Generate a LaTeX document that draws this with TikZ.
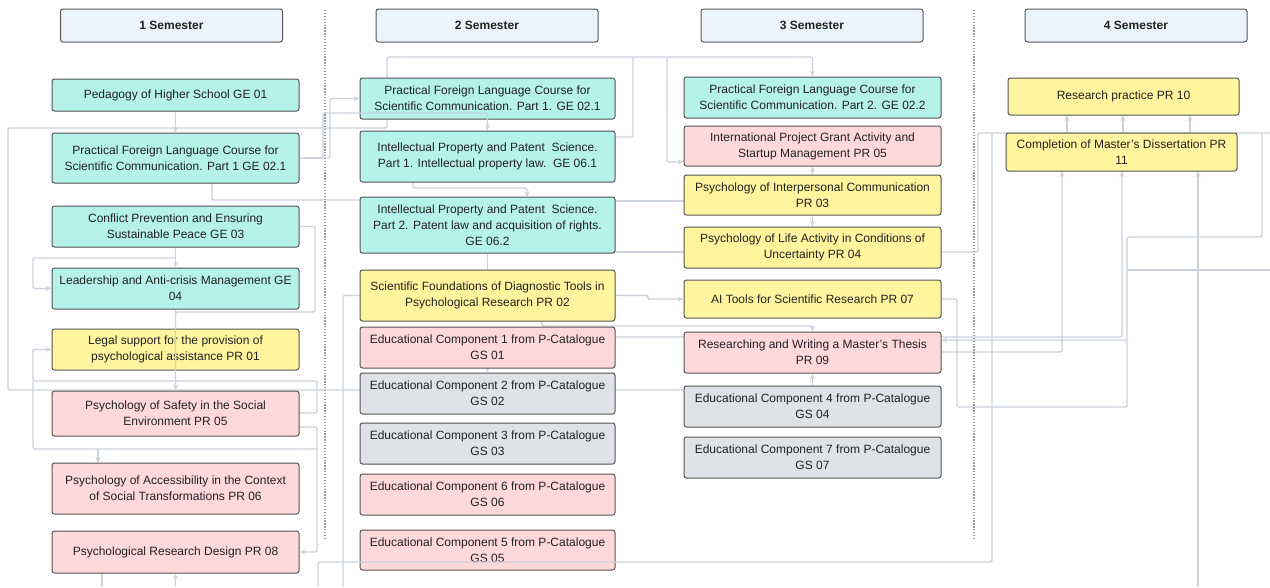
\documentclass[tikz,border=0pt]{standalone}
\usepackage{fontspec}
\setmainfont{Liberation Sans}
\usetikzlibrary{arrows.meta}
\definecolor{cteal}{HTML}{B4F2EA}
\definecolor{cyel}{HTML}{FFF59E}
\definecolor{cpink}{HTML}{FFD9D9}
\definecolor{cgray}{HTML}{DFE2E6}
\definecolor{chead}{HTML}{EBF3FD}
\definecolor{cborder}{HTML}{555555}
\definecolor{cline}{HTML}{CBD2DC}
\definecolor{ctext}{HTML}{222222}
\pgfdeclarelayer{back}
\pgfdeclarelayer{bg}
\pgfsetlayers{back,bg,main}
\begin{document}
\begin{tikzpicture}[x=1pt,y=-1pt,
  box/.style={draw=cborder, line width=1pt, rounded corners=2.5pt, align=center, inner sep=0pt,
    text=ctext, font=\fontsize{12}{16}\selectfont},
  head/.style={box, fill=chead, minimum width=222, minimum height=33, font=\fontsize{12}{16}\selectfont\bfseries},
  c1/.style={box, minimum width=247},
  c2/.style={box, minimum width=255},
  c3/.style={box, minimum width=257},
  conn/.style={draw=cline, line width=1.4pt, rounded corners=2pt},
  arr/.style={conn, -{Stealth[length=6pt,width=5pt]}},
  sep/.style={draw=gray!80, line width=1.3pt, dash pattern=on 1.3pt off 1.6pt}
]
\useasboundingbox (0,0) rectangle (1270,587);
\begin{pgfonlayer}{back}
\fill[white] (0,0) rectangle (1270,587);
\end{pgfonlayer}

% separators
\draw[sep] (325,10) -- (325,540);
\draw[sep] (974,10) -- (974,540);

% headers
\node[head] (h1) at (171.5,25.5) {1 Semester};
\node[head] (h2) at (487,25.5) {2 Semester};
\node[head] (h3) at (812,25.5) {3 Semester};
\node[head] (h4) at (1136,25.5) {4 Semester};

% column 1
\node[c1, fill=cteal, minimum height=32] (ped) at (175.5,95) {Pedagogy of Higher School GE 01};
\node[c1, fill=cteal, minimum height=50] (pfa) at (175.5,158) {Practical Foreign Language Course for\\Scientific Communication. Part 1 GE 02.1};
\node[c1, fill=cteal, minimum height=41] (conf) at (175.5,226.5) {Conflict Prevention and Ensuring\\Sustainable Peace GE 03};
\node[c1, fill=cteal, minimum height=41] (lead) at (175.5,288.5) {Leadership and Anti-crisis Management GE\\04};
\node[c1, fill=cyel, minimum height=41] (legal) at (175.5,349.5) {Legal support for the provision of\\psychological assistance PR 01};
\node[c1, fill=cpink, minimum height=45] (safe) at (175.5,413.5) {Psychology of Safety in the Social\\Environment PR 05};
\node[c1, fill=cpink, minimum height=51] (acc) at (175.5,488.5) {Psychology of Accessibility in the Context\\of Social Transformations PR 06};
\node[c1, fill=cpink, minimum height=42] (des) at (175.5,552) {Psychological Research Design PR 08};

% column 2
\node[c2, fill=cteal, minimum height=41] (pfb) at (487.5,98.5) {Practical Foreign Language Course for\\Scientific Communication. Part 1. GE 02.1};
\node[c2, fill=cteal, minimum height=51] (ipa) at (487.5,156.5) {Intellectual Property and Patent\ \ Science.\\Part 1. Intellectual property law.\ \ GE 06.1};
\node[c2, fill=cteal, minimum height=56] (ipb) at (487.5,225) {Intellectual Property and Patent\ \ Science.\\Part 2. Patent law and acquisition of rights.\\GE 06.2};
\node[c2, fill=cyel, minimum height=51] (sf) at (487.5,295.5) {Scientific Foundations of Diagnostic Tools in\\Psychological Research PR 02};
\node[c2, fill=cpink, minimum height=41] (ea) at (487.5,347.5) {Educational Component 1 from P-Catalogue\\GS 01};
\node[c2, fill=cgray, minimum height=41] (eb) at (487.5,393.5) {Educational Component 2 from P-Catalogue\\GS 02};
\node[c2, fill=cgray, minimum height=41] (ec) at (487.5,443.5) {Educational Component 3 from P-Catalogue\\GS 03};
\node[c2, fill=cpink, minimum height=41] (ef) at (487.5,494.5) {Educational Component 6 from P-Catalogue\\GS 06};
\node[c2, fill=cpink, minimum height=40] (ee) at (487.5,550) {Educational Component 5 from P-Catalogue\\GS 05};

% column 3
\node[c3, fill=cteal, minimum height=41] (pfc) at (812.5,97.5) {Practical Foreign Language Course for\\Scientific Communication. Part 2. GE 02.2};
\node[c3, fill=cpink, minimum height=40] (grant) at (812.5,146) {International Project Grant Activity and\\Startup Management PR 05};
\node[c3, fill=cyel, minimum height=40] (inter) at (812.5,195) {Psychology of Interpersonal Communication\\PR 03};
\node[c3, fill=cyel, minimum height=41] (life) at (812.5,247.5) {Psychology of Life Activity in Conditions of\\Uncertainty PR 04};
\node[c3, fill=cyel, minimum height=38] (ai) at (812.5,299) {AI Tools for Scientific Research PR 07};
\node[c3, fill=cpink, minimum height=41] (thes) at (812.5,352.5) {Researching and Writing a Master's Thesis\\PR 09};
\node[c3, fill=cgray, minimum height=41] (ed) at (812.5,406.5) {Educational Component 4 from P-Catalogue\\GS 04};
\node[c3, fill=cgray, minimum height=41] (eg) at (812.5,457.5) {Educational Component 7 from P-Catalogue\\GS 07};

% column 4
\node[box, fill=cyel, minimum width=231, minimum height=37] (rp) at (1123.5,96.5) {Research practice PR 10};
\node[box, fill=cyel, minimum width=231, minimum height=38] (cmd) at (1121.5,152) {Completion of Master's Dissertation PR\\11};

\begin{pgfonlayer}{bg}
% column 1
\draw[arr] (ped.south) -- (pfa.north);
\draw[conn] (175.5,128) -- (8,128) -- (8,390) -- (ed.west |- 0,390);
\draw[arr] (175.5,128) -- (387,128) -- (387,57) -- (812.5,57) -- (pfc.north);
\draw[conn] (633,57) -- (633,137) -- (ipa.east |- 0,137);
\draw[arr] (667,57) -- (667,162) -- (grant.west |- 0,162);
\draw[arr] (pfa.east) -- (330,158) -- (330,98.5) -- (pfb.west);
\draw[conn] (212,183) -- (212,200) -- (ipb.west |- 0,200);
\draw[arr] (conf.south) -- (lead.north);
\draw[arr] (175.5,258) -- (33,258) -- (33,288.5) -- (lead.west);
\draw[conn] (lead.south) -- (175.5,312);
\draw[arr] (299,413) -- (317,413) -- (317,381) -- (33,381) -- (33,349.5) -- (legal.west);
\draw[conn] (33,381) -- (33,449) -- (317,449);
\draw[arr] (98,449) -- (98,463);
\draw[arr] (299,427) -- (317,427) -- (317,552) -- (des.east);
\draw[conn] (102,573) -- (102,587);
\draw[arr] (175.5,587) -- (des.south);
% column 2
\draw[arr] (413,182) -- (413,188) -- (527,188) -- (527,197);
\draw[conn] (ipb.south) -- (sf.north);
\draw[conn] (sf.west) -- (343,295.5) -- (343,587);
\draw[arr] (542,321) -- (542,326) -- (812.5,326) -- (thes.north);
\draw[arr] (ea.south) -- (eb.north);
\draw[arr] (sf.east) -- (648,295.5) -- (648,299) -- (ai.west);
\draw[conn] (615,201) -- (inter.west |- 0,201);
\draw[conn] (615,252) -- (life.west |- 0,252);
\draw[arr] (615,337) -- (1122,337) -- (1122,171);
% column 3
\draw[arr] (inter.north) -- (grant.south);
\draw[arr] (inter.south) -- (life.north);
\draw[arr] (ed.north) -- (thes.south);
\draw[arr] (ai.east) -- (957,299) -- (957,407) -- (1127,407) -- (1127,340) -- (thes.east |- 0,340);
\draw[arr] (thes.east |- 0,352) -- (1062,352) -- (1062,171);
% right side network
\draw[conn] (life.east |- 0,252) -- (978,252) -- (978,133) -- (1270,133);
\draw[arr] (1067,133) -- (1067,115);
\draw[arr] (1123,133) -- (1123,115);
\draw[arr] (1190,133) -- (1190,115);
\draw[conn] (1262,133) -- (1262,237) -- (1127,237) -- (1127,340);
\draw[conn] (1127,270) -- (1270,270);
\draw[arr] (1198,587) -- (1198,171);
\end{pgfonlayer}

% connectors drawn over boxes
\draw[arr] (pfa.east) -- (323,158) -- (323,113) -- (487.5,113) -- (ipa.north);
\draw[arr] (conf.east) -- (315,226.5) -- (315,312) -- (175.5,312) -- (safe.north);
\draw[conn] (318,587) -- (318,562) -- (992,562) -- (992,133);
\end{tikzpicture}
\end{document}
